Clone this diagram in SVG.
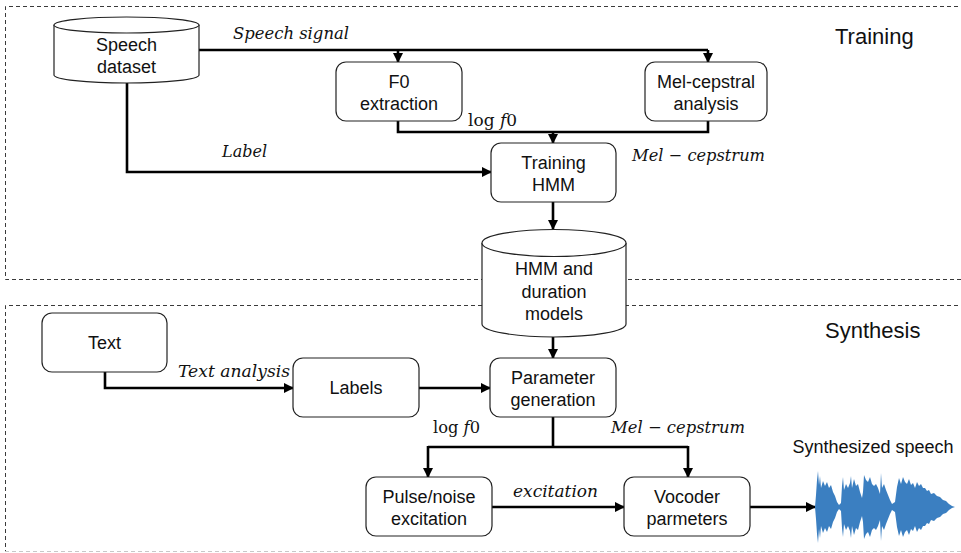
<svg xmlns="http://www.w3.org/2000/svg" width="961" height="553" viewBox="0 0 961 553">
  <style>
    .frame { fill: none; stroke: #3a3a3a; stroke-width: 1; stroke-dasharray: 4 3; }
    .node { fill: #fff; stroke: #222; stroke-width: 1.2; }
    .lbl { font-family: "Liberation Sans", Arial, sans-serif; font-size: 18px; fill: #111; text-anchor: middle; }
    .head { font-family: "Liberation Sans", Arial, sans-serif; font-size: 22px; fill: #111; }
    .math { font-family: "DejaVu Serif", "Liberation Serif", serif; font-size: 17px; font-style: italic; fill: #111; }
    .up { font-style: normal; }
    .wire { fill: none; stroke: #000; stroke-width: 2.6; }
  </style>
  <defs>
    <marker id="arrow" viewBox="0 0 10 10" refX="9" refY="5" markerWidth="4" markerHeight="4" orient="auto" markerUnits="strokeWidth">
      <path d="M0,0 L10,5 L0,10 z" fill="#000"/>
    </marker>
    <!-- upper half of the waveform envelope, mirrored for the lower half -->
    <path id="wave-half" d="M815,507 L816,495 L817,480 L818,471 L819,485 L820,476 L821,488 L823,481 L825,486 L827,482 L829,488 L831,485 L833,492 L835,496 L837,502 L839,505 L841,503 L842,486 L843,477 L844,490 L846,484 L848,488 L850,483 L851,476 L852,488 L854,479 L856,486 L858,484 L860,492 L862,498 L863,492 L864,475 L866,480 L868,482 L870,477 L872,484 L874,486 L876,484 L878,488 L880,494 L881,473 L882,488 L884,484 L886,490 L888,495 L890,500 L892,504 L895,502 L897,487 L899,478 L901,484 L903,477 L905,482 L907,484 L909,479 L911,485 L913,483 L915,488 L917,482 L919,486 L921,484 L923,488 L925,488 L927,491 L929,490 L931,494 L934,493 L937,496 L940,497 L943,500 L946,501 L949,504 L952,506 L955,507 Z"/>
  </defs>

  <!-- stage frames -->
  <g id="frames">
    <path class="frame" d="M965,6.5 H5.5 V279.5 H965"/>
    <path class="frame" d="M965,305.5 H5.5 V552"/>
    <path d="M5,551.5 H965" fill="none" stroke="#c8c8c8" stroke-width="1" stroke-dasharray="4 3"/>
    <text class="head" x="835" y="44">Training</text>
    <text class="head" x="825" y="338">Synthesis</text>
  </g>

  <!-- connectors -->
  <g id="connectors">
    <path class="wire" d="M199,50 H708"/>
    <path class="wire" d="M398,50 V62" marker-end="url(#arrow)"/>
    <path class="wire" d="M708,50 V62" marker-end="url(#arrow)"/>
    <path class="wire" d="M398,121 V132 H708 V121"/>
    <path class="wire" d="M553,132 V143" marker-end="url(#arrow)"/>
    <path class="wire" d="M127,83 V172 H491" marker-end="url(#arrow)"/>
    <path class="wire" d="M553,202 V229" marker-end="url(#arrow)"/>
    <path class="wire" d="M553,337 V358" marker-end="url(#arrow)"/>
    <path class="wire" d="M105,372 V388 H293" marker-end="url(#arrow)"/>
    <path class="wire" d="M419,388 H490" marker-end="url(#arrow)"/>
    <path class="wire" d="M553,417 V447"/>
    <path class="wire" d="M428,447 H688"/>
    <path class="wire" d="M428,446 V477" marker-end="url(#arrow)"/>
    <path class="wire" d="M688,446 V477" marker-end="url(#arrow)"/>
    <path class="wire" d="M492,507 H624" marker-end="url(#arrow)"/>
    <path class="wire" d="M750,507 H815" marker-end="url(#arrow)"/>

    <text class="math" x="233" y="39" textLength="116" lengthAdjust="spacingAndGlyphs">Speech signal</text>
    <text class="math" x="222" y="157" textLength="45" lengthAdjust="spacingAndGlyphs">Label</text>
    <text class="math" x="468" y="126" textLength="49" lengthAdjust="spacingAndGlyphs"><tspan class="up">log </tspan>f<tspan class="up">0</tspan></text>
    <text class="math" x="632" y="161" textLength="133" lengthAdjust="spacingAndGlyphs">Mel − cepstrum</text>
    <text class="math" x="178" y="377" textLength="112" lengthAdjust="spacingAndGlyphs">Text analysis</text>
    <text class="math" x="433" y="433" textLength="47" lengthAdjust="spacingAndGlyphs"><tspan class="up">log </tspan>f<tspan class="up">0</tspan></text>
    <text class="math" x="611" y="433" textLength="134" lengthAdjust="spacingAndGlyphs">Mel − cepstrum</text>
    <text class="math" x="513" y="497" textLength="85" lengthAdjust="spacingAndGlyphs">excitation</text>
  </g>

  <!-- training stage -->
  <g id="speech-dataset">
    <path class="node" d="M54,25 V75 A72.5,8 0 0 0 199,75 V25"/>
    <ellipse class="node" cx="126.5" cy="25" rx="72.5" ry="8"/>
    <text class="lbl" x="126.5" y="51">Speech</text>
    <text class="lbl" x="126.5" y="73">dataset</text>
  </g>

  <g id="f0-extraction">
    <rect class="node" x="336" y="62" width="126" height="59" rx="10"/>
    <text class="lbl" x="399" y="88">F0</text>
    <text class="lbl" x="399" y="110">extraction</text>
  </g>

  <g id="mel-cepstral-analysis">
    <rect class="node" x="645" y="62" width="122" height="59" rx="10"/>
    <text class="lbl" x="706" y="88">Mel-cepstral</text>
    <text class="lbl" x="706" y="110">analysis</text>
  </g>

  <g id="training-hmm">
    <rect class="node" x="491" y="143" width="125" height="59" rx="10"/>
    <text class="lbl" x="553.5" y="169">Training</text>
    <text class="lbl" x="553.5" y="191">HMM</text>
  </g>

  <g id="hmm-models">
    <path class="node" d="M482,243 V324 A72,13 0 0 0 626,324 V243"/>
    <ellipse class="node" cx="554" cy="243" rx="72" ry="13.5"/>
    <text class="lbl" x="554" y="275">HMM and</text>
    <text class="lbl" x="554" y="298">duration</text>
    <text class="lbl" x="554" y="320">models</text>
  </g>

  <!-- synthesis stage -->
  <g id="text">
    <rect class="node" x="42" y="313" width="125" height="59" rx="10"/>
    <text class="lbl" x="104.5" y="349">Text</text>
  </g>

  <g id="labels">
    <rect class="node" x="293" y="358" width="126" height="59" rx="10"/>
    <text class="lbl" x="356" y="394">Labels</text>
  </g>

  <g id="parameter-generation">
    <rect class="node" x="490" y="358" width="126" height="59" rx="10"/>
    <text class="lbl" x="553" y="384">Parameter</text>
    <text class="lbl" x="553" y="406">generation</text>
  </g>

  <g id="pulse-noise-excitation">
    <rect class="node" x="366" y="477" width="126" height="59" rx="10"/>
    <text class="lbl" x="429" y="503">Pulse/noise</text>
    <text class="lbl" x="429" y="525">excitation</text>
  </g>

  <g id="vocoder-parameters">
    <rect class="node" x="624" y="477" width="126" height="59" rx="10"/>
    <text class="lbl" x="687" y="503">Vocoder</text>
    <text class="lbl" x="687" y="525">parmeters</text>
  </g>

  <g id="synthesized-speech">
    <text class="lbl" x="873" y="453" style="font-size:18px">Synthesized speech</text>
    <g fill="#3b7fc1">
      <use href="#wave-half"/>
      <use href="#wave-half" transform="translate(0,1014) scale(1,-1)"/>
    </g>
  </g>
</svg>
